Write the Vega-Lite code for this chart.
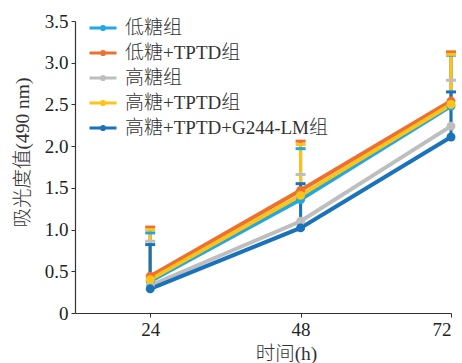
{
  "$schema": "https://vega.github.io/schema/vega-lite/v6.json",
  "autosize": "none",
  "width": 376,
  "height": 292,
  "padding": {"left": 75, "top": 21, "right": 11, "bottom": 50},
  "background": "white",
  "config": {
    "view": {"stroke": null},
    "font": "Liberation Serif, Noto Sans CJK SC",
    "axis": {"grid": false, "domainColor": "#333333", "tickColor": "#333333", "labelColor": "#222222", "titleColor": "#333333", "labelFont": "Liberation Serif, Noto Sans CJK SC", "titleFont": "Liberation Serif, Noto Sans CJK SC", "titleFontWeight": 300, "domainWidth": 1.2}
  },
  "data": {
    "values": [
      {"group": "低糖组", "t": 24, "mean": 0.38, "upper": 0.96},
      {"group": "低糖组", "t": 48, "mean": 1.36, "upper": 1.97},
      {"group": "低糖组", "t": 72, "mean": 2.48, "upper": 3.09},
      {"group": "低糖+TPTD组", "t": 24, "mean": 0.44, "upper": 1.03},
      {"group": "低糖+TPTD组", "t": 48, "mean": 1.47, "upper": 2.06},
      {"group": "低糖+TPTD组", "t": 72, "mean": 2.54, "upper": 3.13},
      {"group": "高糖组", "t": 24, "mean": 0.33, "upper": 0.86},
      {"group": "高糖组", "t": 48, "mean": 1.10, "upper": 1.66},
      {"group": "高糖组", "t": 72, "mean": 2.24, "upper": 2.79},
      {"group": "高糖+TPTD组", "t": 24, "mean": 0.40, "upper": 1.00},
      {"group": "高糖+TPTD组", "t": 48, "mean": 1.41, "upper": 2.02},
      {"group": "高糖+TPTD组", "t": 72, "mean": 2.50, "upper": 3.10},
      {"group": "高糖+TPTD+G244-LM组", "t": 24, "mean": 0.29, "upper": 0.82},
      {"group": "高糖+TPTD+G244-LM组", "t": 48, "mean": 1.02, "upper": 1.55},
      {"group": "高糖+TPTD+G244-LM组", "t": 72, "mean": 2.11, "upper": 2.65}
    ]
  },
  "encoding": {
    "x": {
      "field": "t", "type": "quantitative",
      "scale": {"domain": [12, 72], "nice": false, "zero": false},
      "axis": {"values": [24, 48, 72], "title": "时间(h)", "labelFontSize": 19, "titleFontSize": 19.5, "tickSize": 4, "labelPadding": 3, "titleX": 211, "titleY": 46, "titleBaseline": "alphabetic", "titleAnchor": "middle", "titleAlign": "center"}
    },
    "y": {
      "field": "mean", "type": "quantitative",
      "scale": {"domain": [0, 3.5], "nice": false},
      "axis": {"values": [0, 0.5, 1, 1.5, 2, 2.5, 3, 3.5], "labelExpr": "datum.value == 0 ? '0' : format(datum.value, '.1f')", "title": "吸光度值(490 nm)", "labelFontSize": 19, "titleFontSize": 19.5, "tickSize": 4, "labelPadding": 3, "titleX": -53, "titleY": 131, "titleAngle": -90, "titleAlign": "center", "titleBaseline": "middle"}
    },
    "color": {
      "field": "group", "type": "nominal",
      "scale": {
        "domain": ["低糖组", "低糖+TPTD组", "高糖组", "高糖+TPTD组", "高糖+TPTD+G244-LM组"],
        "range": ["#22A7E0", "#EE7030", "#BEBEBE", "#FCC419", "#1A72BB"]
      }
    }
  },
  "layer": [
    {
      "mark": {"type": "line", "strokeWidth": 4},
      "encoding": {
        "color": {
          "field": "group", "type": "nominal",
          "legend": {
            "title": null, "orient": "none", "legendX": 13, "legendY": -8,
            "labelFontSize": 19, "labelFontWeight": 300, "labelColor": "#333333", "labelLimit": 400, "labelOffset": 7,
            "symbolType": "M-1,0H1M-0.12,0A0.12,0.12 0 1,1 0.12,0A0.12,0.12 0 1,1 -0.12,0",
            "symbolSize": 729, "symbolStrokeWidth": 3, "rowPadding": -2.3
          }
        }
      }
    },
    {
      "mark": {"type": "rule", "strokeWidth": 3},
      "encoding": {"y2": {"field": "upper"}, "color": {"field": "group", "type": "nominal", "legend": null}}
    },
    {
      "mark": {"type": "tick", "orient": "horizontal", "thickness": 3, "size": 10, "opacity": 1},
      "encoding": {"y": {"field": "upper", "type": "quantitative"}, "color": {"field": "group", "type": "nominal", "legend": null}}
    },
    {
      "mark": {"type": "point", "filled": true, "size": 80, "opacity": 1},
      "encoding": {"color": {"field": "group", "type": "nominal", "legend": null}}
    }
  ]
}
